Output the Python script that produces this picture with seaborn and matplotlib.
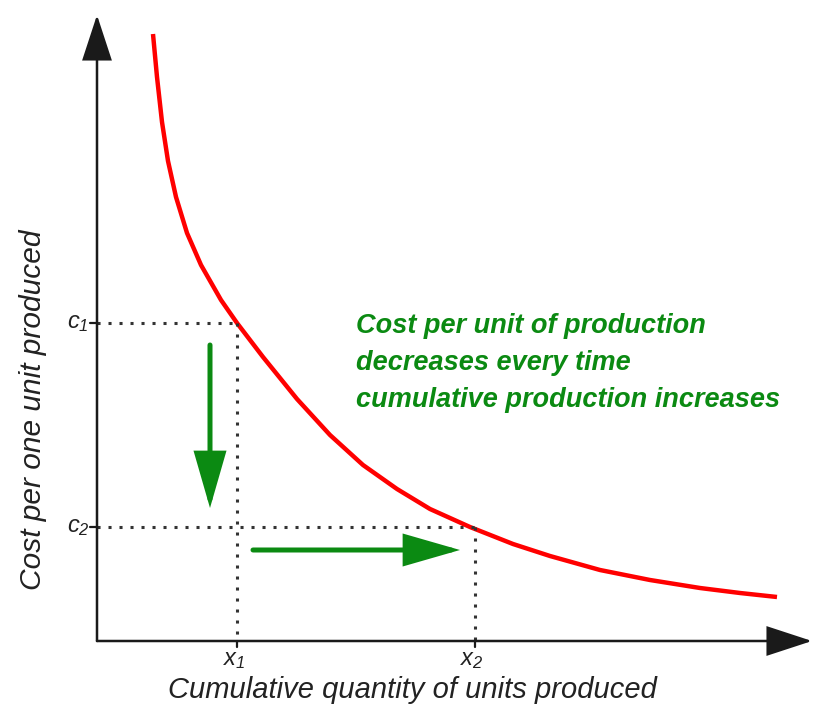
import matplotlib
matplotlib.use('Agg')
import matplotlib.pyplot as plt
import seaborn as sns
import pandas as pd

# learning curve (origin at the axes corner)
curve_x = [56, 60, 65, 71, 79, 90, 104, 124, 140, 166, 200, 233, 266, 300,
           333, 373, 416, 453, 503, 553, 603, 643, 680]
curve_y = [607, 564, 519, 480, 444, 408, 376, 341, 318, 284, 242, 206, 176,
           152, 132, 114, 97, 85, 71, 61, 53, 48, 44]

x_marks = [140, 378]
c_marks = [318, 114]
x_labels = ['$x_1$', '$x_2$']
c_labels = ['$c_1$', '$c_2$']

note_lines = ['Cost per unit of production',
              'decreases every time',
              'cumulative production increases']
xlabel = 'Cumulative quantity of units produced'
ylabel = 'Cost per one unit produced'

green = '#0b8a12'
axis_col = '#1a1a1a'
dot_col = '#333333'

sns.set_style('white')
plt.rcParams['font.family'] = ['Liberation Sans', 'DejaVu Sans']
plt.rcParams['mathtext.fontset'] = 'custom'
plt.rcParams['mathtext.it'] = 'Liberation Sans:italic'
plt.rcParams['mathtext.rm'] = 'Liberation Sans:italic'

df = pd.DataFrame({'q': curve_x, 'cost': curve_y})

fig = plt.figure(figsize=(8.36, 7.11), dpi=100)
ax = fig.add_axes([0, 0, 1, 1])
ax.set_xlim(-97, 739)
ax.set_ylim(-70, 641)
ax.axis('off')

sns.lineplot(data=df, x='q', y='cost', sort=False, color='#ff0000',
             lw=3.2, ax=ax, solid_capstyle='butt', solid_joinstyle='round')

# dotted guides
for xm, cm in zip(x_marks, c_marks):
    ax.plot([0, xm], [cm, cm], color=dot_col, lw=2.2, dashes=(1, 2.6))
    ax.plot([xm, xm], [cm, 0], color=dot_col, lw=2.2, dashes=(1, 2.6))
    ax.plot([-7, 0], [cm, cm], color=axis_col, lw=1.6)
    ax.plot([xm, xm], [0, -6], color=axis_col, lw=1.6)

for xm, lab in zip(x_marks, x_labels):
    ax.text(xm - 3, -19, lab, ha='center', va='center', fontsize=17,
            color='#222222')
for cm, lab in zip(c_marks, c_labels):
    ax.text(-19, cm, lab, ha='center', va='center', fontsize=17,
            color='#222222')

# axes arrows
ax_arrow = dict(arrowstyle='-|>,head_length=2.9,head_width=0.95',
                mutation_scale=10, color=axis_col, lw=1.8,
                shrinkA=0, shrinkB=0, joinstyle='miter')
ax.annotate('', xy=(0, 626), xytext=(0, 0), arrowprops=ax_arrow)
ax.annotate('', xy=(715, 0), xytext=(0, 0), arrowprops=ax_arrow)

# green arrows
g_arrow = dict(arrowstyle='-|>,head_length=3.3,head_width=0.95',
               mutation_scale=10, color=green, lw=3.6,
               shrinkA=0, shrinkB=0, joinstyle='miter')
ax.annotate('', xy=(113, 133), xytext=(113, 296), arrowprops=g_arrow)
ax.annotate('', xy=(363, 91), xytext=(156, 91), arrowprops=g_arrow)

for i, line in enumerate(note_lines):
    ax.text(259, 308 - i * 37, line, color=green, fontsize=19.5,
            fontweight='bold', fontstyle='italic', va='baseline')

ax.text(315, -49, xlabel, ha='center', va='center', fontsize=21,
        fontstyle='italic', color='#222222')
ax.text(-64, 231, ylabel, ha='center', va='center', fontsize=21.5,
        fontstyle='italic', rotation=90, color='#222222')

fig.savefig('out.png', dpi=100)
